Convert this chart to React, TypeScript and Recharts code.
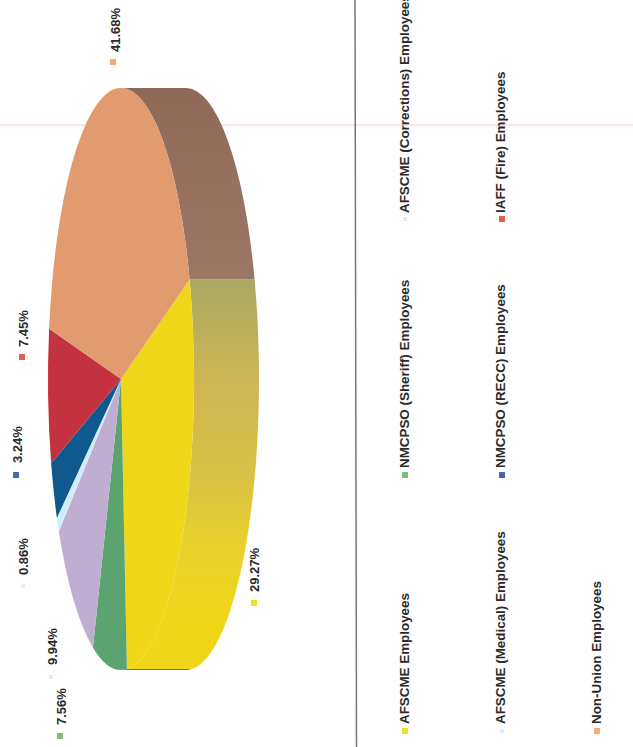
import { Legend, Pie, PieChart } from 'recharts';

const names = [
  'AFSCME Employees',
  'NMCPSO (Sheriff) Employees',
  'AFSCME (Corrections) Employees',
  'AFSCME (Medical) Employees',
  'NMCPSO (RECC) Employees',
  'IAFF (Fire) Employees',
  'Non-Union Employees',
];
const shares = [29.27, 7.56, 9.94, 0.86, 3.24, 7.45, 41.68];
const faceColors = ['#efd619', '#5ba470', '#c0aed2', '#d3ecfa', '#10598f', '#c5323f', '#e19b6e'];
const wallColors = ['url(#yellowWall)', '#4c8a5e', '#a08fb0', '#b0c8d8', '#0c4670', '#a02a35', 'url(#brownWall)'];
const markerColors = ['#efe020', '#7fbc78', '#efe6f5', '#e0eefb', '#4468a8', '#dc5f50', '#f2aa78'];
const markerSizes = [6, 6, 4, 4, 6, 6, 6];

// rotated page: label anchors for each slice [baseline x, text start y, marker x, marker y]
const labelSpots = [
  [258.5, 592, 254, 603],
  [65.5, 725, 60, 736],
  [56.5, 665, 51, 677],
  [27.5, 575, 23, 586],
  [21.5, 463, 16, 475],
  [27.5, 347, 22, 357],
  [119.5, 52, 113, 62],
];
// legend anchors in the same order
const legendSpots = [
  [408.5, 724, 405, 731],
  [408.5, 468, 405, 475],
  [408.5, 213, 405, 219],
  [504.5, 724, 502, 731],
  [504.5, 468, 502, 475],
  [504.5, 213, 502, 219],
  [601, 724, 597, 731],
];

const WIDTH = 633;
const HEIGHT = 747;
const SQUASH = 73 / 291;
const DEPTH = 65;
const FONT = '"Liberation Sans", Arial, sans-serif';

const slices = names.map((name, i) => ({ name, value: shares[i], fill: faceColors[i], wall: wallColors[i] }));

function ellipsePoint(cx: number, cy: number, r: number, angle: number) {
  const a = (angle * Math.PI) / 180;
  return { x: cx - r * SQUASH * Math.sin(a), y: cy - r * Math.cos(a) };
}

function Face(props: any) {
  const { cx, cy, outerRadius: r, startAngle, endAngle, fill } = props;
  const a = ellipsePoint(cx, cy, r, startAngle);
  const b = ellipsePoint(cx, cy, r, endAngle);
  const large = Math.abs(startAngle - endAngle) > 180 ? 1 : 0;
  return <path d={`M${cx},${cy}L${a.x},${a.y}A${r * SQUASH},${r} 0 ${large} 1 ${b.x},${b.y}Z`} fill={fill} />;
}

function Wall(props: any) {
  const { cx, cy, outerRadius: r, startAngle, endAngle, payload } = props;
  const parts: string[] = [];
  for (const shift of [0, 360]) {
    const hi = Math.min(startAngle + shift, 0);
    const lo = Math.max(endAngle + shift, -180);
    if (hi <= lo) continue;
    const a = ellipsePoint(cx, cy, r, hi);
    const b = ellipsePoint(cx, cy, r, lo);
    const rx = r * SQUASH;
    parts.push(`M${a.x},${a.y}A${rx},${r} 0 0 1 ${b.x},${b.y}L${b.x + DEPTH},${b.y}A${rx},${r} 0 0 0 ${a.x + DEPTH},${a.y}Z`);
  }
  return <path d={parts.join('')} fill={payload.wall} />;
}

function SliceLabel(props: any) {
  const [x, y, mx, my] = labelSpots[props.index];
  const size = markerSizes[props.index];
  return (
    <g>
      <rect x={mx - size / 2} y={my - size / 2} width={size} height={size} fill={markerColors[props.index]} />
      <text x={x} y={y} transform={`rotate(-90 ${x} ${y})`} fontFamily={FONT} fontSize={13} fontWeight={700} fill="#2a2a2a">
        {shares[props.index].toFixed(2)}%
      </text>
    </g>
  );
}

function LegendBlock() {
  return (
    <svg width={WIDTH} height={HEIGHT} style={{ display: 'block' }}>
      {names.map((name, i) => {
        const [x, y, mx, my] = legendSpots[i];
        const size = markerSizes[i];
        return (
          <g key={name}>
            <rect x={mx - size / 2} y={my - size / 2} width={size} height={size} fill={markerColors[i]} />
            <text x={x} y={y} transform={`rotate(-90 ${x} ${y})`} fontFamily={FONT} fontSize={13.4} fontWeight={700} fill="#2a2a2a">
              {name}
            </text>
          </g>
        );
      })}
    </svg>
  );
}

export default function App() {
  return (
    <div style={{ position: 'absolute', left: 0, top: 0, width: WIDTH, height: HEIGHT, overflow: 'hidden', background: '#fff' }}>
      <PieChart width={WIDTH} height={HEIGHT} margin={{ top: 0, right: 0, bottom: 0, left: 0 }}>
        <defs>
          <linearGradient id="yellowWall" gradientUnits="userSpaceOnUse" x1="0" y1="279" x2="0" y2="670">
            <stop offset="0" stopColor="#a9a862" />
            <stop offset="0.25" stopColor="#ccb555" />
            <stop offset="0.5" stopColor="#dac146" />
            <stop offset="0.68" stopColor="#e9d02c" />
            <stop offset="0.85" stopColor="#efd619" />
          </linearGradient>
          <linearGradient id="brownWall" gradientUnits="userSpaceOnUse" x1="0" y1="88" x2="0" y2="279">
            <stop offset="0" stopColor="#8f6a58" />
            <stop offset="1" stopColor="#9d7766" />
          </linearGradient>
        </defs>
        <Pie
          data={slices}
          dataKey="value"
          nameKey="name"
          cx={121}
          cy={379}
          outerRadius={291}
          startAngle={-70}
          endAngle={-430}
          shape={Wall}
          legendType="none"
          isAnimationActive={false}
        />
        <Pie
          data={slices}
          dataKey="value"
          nameKey="name"
          cx={121}
          cy={379}
          outerRadius={291}
          startAngle={-70}
          endAngle={-430}
          shape={Face}
          label={SliceLabel}
          labelLine={false}
          isAnimationActive={false}
        />
        <line x1={0} y1={125} x2={WIDTH} y2={125} stroke="#e05050" strokeOpacity={0.2} strokeWidth={1.5} />
        <line x1={355} y1={0} x2={356.5} y2={HEIGHT} stroke="#777" strokeWidth={1.5} />
        <Legend content={LegendBlock} wrapperStyle={{ left: 0, top: 0, width: WIDTH, height: HEIGHT, pointerEvents: 'none' }} />
      </PieChart>
    </div>
  );
}
